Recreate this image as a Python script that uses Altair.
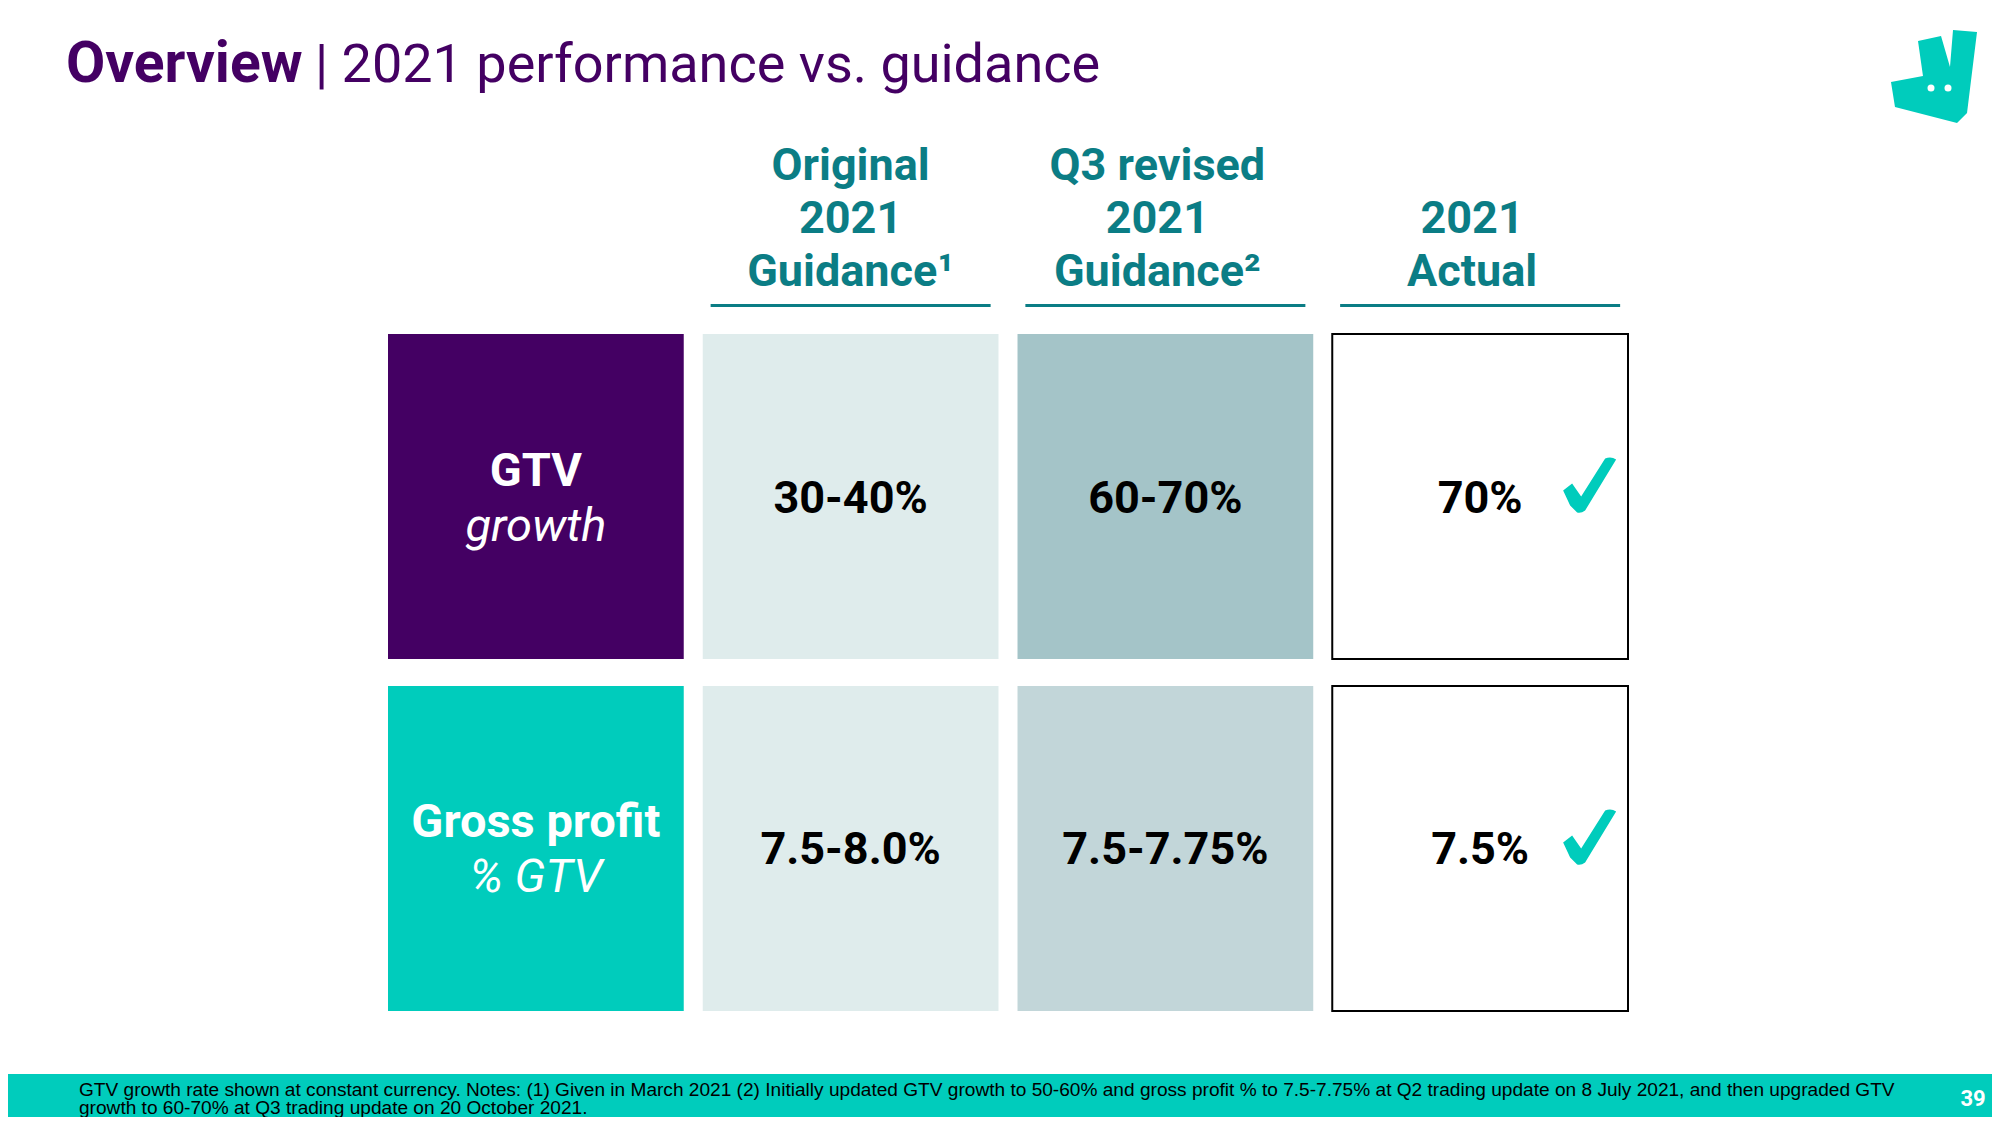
import altair as alt
import pandas as pd

# ---------------- data ----------------
columns = ["Metric", "Original 2021 Guidance", "Q3 revised 2021 Guidance", "2021 Actual"]
header_lines = [
    ["Original", "2021", "Guidance\u00b9"],
    ["Q3 revised", "2021", "Guidance\u00b2"],
    ["", "2021", "Actual"],
]
rows = ["GTV growth", "Gross profit % GTV"]
row_titles = ["GTV", "Gross profit"]
row_subtitles = ["growth", "% GTV"]
original_guidance = ["30-40%", "7.5-8.0%"]
q3_guidance = ["60-70%", "7.5-7.75%"]
actual_2021 = ["70%", "7.5%"]
met_guidance = [True, True]

title_bold = "Overview"
title_rest = "| 2021 performance vs. guidance"
footnote_lines = [
    "GTV growth rate shown at constant currency. Notes: (1) Given in March 2021 (2) Initially updated GTV growth to 50-60% and gross profit % to 7.5-7.75% at Q2 trading update on 8 July 2021, and then upgraded GTV",
    "growth to 60-70% at Q3 trading update on 20 October 2021.",
]
page_number = "39"

# ---------------- styles ----------------
PURPLE = "#440063"
TEAL = "#00CCBC"
HEAD = "#0B7D85"
label_fills = [PURPLE, TEAL]
orig_fill = "#DFECEC"
q3_fills = ["#A4C4C8", "#C2D6D9"]
header_dx = [0, -8, -8]
header_baselines = [172, 225, 278]

W, H = 1984, 1109

# ---------------- tables ----------------
cells = []
for i, r in enumerate(rows):
    cells.append({"col": columns[0], "row": r, "fill": label_fills[i], "stroke": label_fills[i], "sw": 0})
    cells.append({"col": columns[1], "row": r, "fill": orig_fill, "stroke": orig_fill, "sw": 0})
    cells.append({"col": columns[2], "row": r, "fill": q3_fills[i], "stroke": q3_fills[i], "sw": 0})
    cells.append({"col": columns[3], "row": r, "fill": "#FFFFFF", "stroke": "#000000", "sw": 2})
cells_df = pd.DataFrame(cells)

values = []
for i, r in enumerate(rows):
    values.append({"col": columns[1], "row": r, "text": original_guidance[i]})
    values.append({"col": columns[2], "row": r, "text": q3_guidance[i]})
    values.append({"col": columns[3], "row": r, "text": actual_2021[i]})
values_df = pd.DataFrame(values)

labels_df = pd.DataFrame({"col": [columns[0]] * len(rows), "row": rows,
                          "title": row_titles, "sub": row_subtitles})
checks_df = pd.DataFrame({"col": [columns[3]] * len(rows), "row": rows, "met": met_guidance})
checks_df = checks_df[checks_df["met"]]

head = []
for j, lines in enumerate(header_lines):
    for k, t in enumerate(lines):
        if t:
            head.append({"col": columns[j + 1], "line": k, "text": t})
head_df = pd.DataFrame(head)
head_cols_df = pd.DataFrame({"col": columns[1:]})

xscale = alt.Scale(type="band", domain=columns, range=[380, 1620], paddingInner=0.0604, paddingOuter=0)
yscale = alt.Scale(type="band", domain=rows, range=[326, 1003], paddingInner=0.0767, paddingOuter=0)
X = alt.X("col:N", scale=xscale, axis=None)
Y = alt.Y("row:N", scale=yscale, axis=None)

layers = []

# cells
layers.append(
    alt.Chart(cells_df).mark_rect().encode(
        x=X, y=Y,
        fill=alt.Fill("fill:N", scale=None),
        stroke=alt.Stroke("stroke:N", scale=None),
        strokeWidth=alt.StrokeWidth("sw:Q", scale=None),
    )
)

# row labels
layers.append(
    alt.Chart(labels_df).mark_text(font="Roboto", fontWeight="bold", fontSize=47,
                                   color="white", baseline="alphabetic", dy=-11).encode(
        x=X, y=Y, text="title:N")
)
layers.append(
    alt.Chart(labels_df).mark_text(font="Roboto", fontStyle="italic", fontSize=47,
                                   color="white", baseline="alphabetic", dy=44).encode(
        x=X, y=Y, text="sub:N")
)

# values
layers.append(
    alt.Chart(values_df).mark_text(font="Roboto", fontWeight="bold", fontSize=45,
                                   color="black", baseline="alphabetic", dy=16).encode(
        x=X, y=Y, text="text:N")
)

# check marks
check_path = ("M -0.964 0.179 L -0.643 -0.071 L -0.321 0.393 L 0.536 -0.964 "
              "Q 0.75 -1.05 0.929 -0.929 L -0.179 0.893 Q -0.32 1.0 -0.464 0.964 L -0.714 0.714 Z")
layers.append(
    alt.Chart(checks_df).mark_point(shape=check_path, filled=True, size=3136, color=TEAL,
                                    opacity=1, strokeWidth=0, xOffset=110, yOffset=-11).encode(
        x=X, y=Y)
)

# headers
for j in range(len(header_lines)):
    for k, yb in enumerate(header_baselines):
        layers.append(
            alt.Chart(head_df).transform_filter(
                (alt.datum.line == k) & (alt.datum.col == columns[j + 1])
            ).mark_text(
                font="Roboto", fontWeight="bold", fontSize=45, color=HEAD,
                baseline="alphabetic", dx=header_dx[j]).encode(
                x=X, y=alt.value(yb), text="text:N")
        )
layers.append(
    alt.Chart(head_cols_df).mark_tick(orient="horizontal", size=280, thickness=3,
                                      color=HEAD, opacity=1).encode(x=X, y=alt.value(297.5))
)

# title
layers.append(
    alt.Chart(pd.DataFrame({"t": [title_bold]})).mark_text(
        font="Roboto", fontWeight="bold", fontSize=57, color=PURPLE, align="left",
        baseline="alphabetic").encode(x=alt.value(58), y=alt.value(74), text="t:N")
)
layers.append(
    alt.Chart(pd.DataFrame({"t": [title_rest]})).mark_text(
        font="Roboto", fontSize=54, color=PURPLE, align="left",
        baseline="alphabetic").encode(x=alt.value(307), y=alt.value(74), text="t:N")
)

# logo
logo_path = ("M -0.344 -0.763 L 0.151 -0.871 L 0.344 -0.204 L 0.409 -1.0 L 0.925 -0.957 "
             "L 0.710 0.785 L 0.495 1.0 L -0.839 0.656 L -0.925 0.118 L -0.237 -0.011 Z")
layers.append(
    alt.Chart(pd.DataFrame({"logo": ["deliveroo"]})).mark_point(
        shape=logo_path, filled=True, size=8649, color=TEAL, opacity=1, strokeWidth=0).encode(
        x=alt.value(1926), y=alt.value(68.5))
)
layers.append(
    alt.Chart(pd.DataFrame({"eye": [0, 1]})).mark_point(
        shape="circle", filled=True, size=49, color="white", opacity=1, strokeWidth=0).encode(
        x=alt.X("eye:Q", scale=alt.Scale(domain=[0, 1], range=[1923, 1940]), axis=None),
        y=alt.value(80))
)

# footer
layers.append(
    alt.Chart(pd.DataFrame({"band": ["footer"]})).mark_rect(color=TEAL).encode(
        x=alt.value(0), x2=alt.value(W), y=alt.value(1066), y2=alt.value(H))
)
for k, yb in enumerate([1088, 1105.5]):
    layers.append(
        alt.Chart(pd.DataFrame({"t": [footnote_lines[k]]})).mark_text(
            font="Liberation Sans", fontSize=19.1, color="black", align="left",
            baseline="alphabetic").encode(x=alt.value(71), y=alt.value(yb), text="t:N")
    )
layers.append(
    alt.Chart(pd.DataFrame({"t": [page_number]})).mark_text(
        font="Roboto", fontWeight="bold", fontSize=22, color="white", align="center",
        baseline="alphabetic").encode(x=alt.value(1965), y=alt.value(1098), text="t:N")
)

chart = alt.layer(*layers).resolve_scale(x="independent").properties(
    width=W, height=H, padding=0, autosize=alt.AutoSizeParams(type="none"),
    background="white",
).configure_view(stroke=None)

chart.save("out.html", embed_options={"renderer": "svg", "actions": False})
